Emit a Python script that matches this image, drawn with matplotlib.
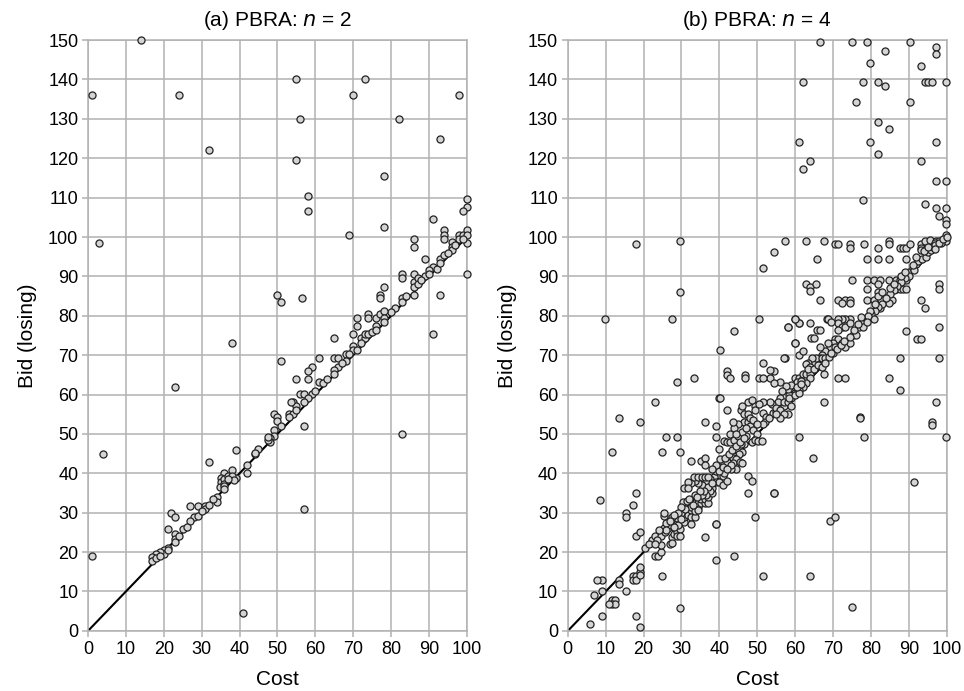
import numpy as np
import matplotlib
matplotlib.use("Agg")
import matplotlib.pyplot as plt

plt.rcParams['font.family'] = ['Liberation Sans', 'DejaVu Sans']

# --- data: (cost, losing bid) ---
# (a) PBRA: n = 2
A_POINTS = [
    (1, 136), (14, 150), (24, 136), (3, 98.5), (4, 45), (1, 19), (23, 62), (32, 122),
    (38, 73), (41, 4.5), (57, 31), (55, 140), (73, 140), (70, 136), (98, 136), (56, 130),
    (82, 130), (55, 119.5), (93, 125), (78, 115.5), (58, 110.5), (58, 106.5), (69, 100.5),
    (78, 102.5), (91, 104.5), (83, 50), (91, 75.3), (93, 85.4), (32, 43), (39, 46),
    (51, 68.4), (50, 85.4), (51, 83.4), (56.5, 84.4),
    (100, 109.6), (100, 107.7), (99, 106.6), (86, 99.6), (86, 97.5), (94, 101.8), (94, 100.5),
    (94, 99.6), (96, 98.8), (96, 97.5), (96, 96.6), (98, 100.5), (98, 99.6), (99, 100.5),
    (100, 101.8), (100, 100.5), (100, 98.6), (100, 90.5), (89, 94.4), (91, 92.5), (90, 91.5),
    (93, 94.4), (94, 95.4), (83, 90.5), (83, 89.5), (86, 90.5), (86, 88.6), (86, 87.3),
    (86, 85.3), (87, 89.5), (78, 87.4), (77, 85.4), (77, 84.4), (83, 84.4), (83, 83.4),
    (92, 92), (89, 90), (87, 88), (84, 85), (93, 93.5), (95, 96), (97, 98), (99, 99.5),
    (88, 89), (90, 90.5), (81, 82), (80, 81),
    (71, 79.4), (71, 77.4), (74, 80.4), (74, 79.4), (76, 79.4), (76, 77.4), (77, 80.4),
    (78, 81.2), (78, 79.4), (78, 78.3), (70, 75.4), (72, 74.3), (73, 74.3), (73, 75.4),
    (74, 75.4), (70, 72.3), (70, 71.3), (71, 71.3), (68, 70.3), (69, 70.3), (68, 68.4),
    (66, 67), (65, 66.2), (65, 69.2), (66, 69.2), (65, 65.3), (65, 74.3), (61, 69.2),
    (61, 63.1), (59, 67), (58, 66), (58, 64), (55, 64), (56, 60.2), (57, 60.2), (59, 60.2),
    (58, 59.1), (57, 58), (54, 58), (55, 57), (53, 55), (54, 55), (53, 54.2), (55, 56.2),
    (49, 55), (50, 54.2), (50, 53.3), (51, 52), (49, 51), (49, 49.4), (48, 49), (48, 48),
    (57, 52), (45, 46.1), (44, 45), (42, 42), (42, 40), (44, 45.1), (47.6, 48.5),
    (47.6, 49.2), (53.5, 58), (62, 63), (63, 64), (60, 61), (67, 68), (72, 73), (75, 76),
    (76, 76.5),
    (38, 40.9), (39, 38.8), (36, 40), (35, 38.7), (35, 37.8), (34.8, 36.6), (35.9, 38.5),
    (35.9, 37.3), (37, 39.4), (37.9, 39.4), (38.5, 38.3), (37, 38.5), (36, 36.8),
    (34, 34.1), (34, 32.8), (31, 31.1), (27, 31.8), (29, 31.8), (31, 31.8), (31, 30.9),
    (28, 29), (27, 27.9), (22, 29.9), (23, 28.9), (21, 25.8), (25, 25.8), (23, 24.6),
    (23, 23.3), (23, 22.5), (21, 21), (20, 20.5), (20, 19.5), (19, 20), (18, 19.5),
    (17, 18.8), (17, 17.8), (18, 18.5), (19, 19), (21, 20.5), (24, 24), (26, 26.5),
    (29, 29.2), (32, 32), (33, 33.5), (30, 30.5), (36, 36),
]

# (b) PBRA: n = 4
B_POINTS = [
    # bids above 100
    (66.7, 149.4), (75.1, 149.4), (79, 149.4), (90.2, 149.4), (97.1, 148.3), (97.1, 146.4),
    (83.8, 147.3), (79.9, 144.3), (93.3, 143.4), (62, 139.3), (77.9, 139.3), (81.8, 139.3),
    (83.8, 138.3), (94.3, 139.3), (95.2, 139.3), (96.1, 139.3), (99.7, 139.3), (76.2, 134.4),
    (90.2, 134.4), (81.8, 129.3), (84.7, 127.3), (60.9, 124.2), (79.9, 124.2), (97.1, 124.2),
    (81.8, 121.2), (62, 117.3), (63.9, 119.3), (93.3, 119.3), (77.9, 109.3), (94.3, 108.3),
    (97.1, 107.3), (97.1, 114.2), (99.7, 114.2), (98, 105.3), (99.7, 107.3), (99.7, 104.3),
    (99.7, 103.4),
    # 60 .. 100
    (18.1, 98.1), (29.6, 99.1), (29.6, 86.1), (9.8, 79.2), (27.6, 79.2), (28.7, 63.1),
    (33.3, 64.1), (40.1, 71.2), (43.9, 76.2), (42, 65.9), (42, 64.9), (42.9, 64.2),
    (46.7, 65), (46.7, 64.2), (50.4, 64.2), (53.5, 64.2), (51.5, 68.1), (54.4, 66),
    (56.1, 63.1), (50.4, 79.2), (51.5, 92.2), (54.4, 96.1), (57.3, 99.1), (57.3, 69.2),
    (58, 77.1), (60, 79.2), (60.9, 78.1), (60, 73.2), (62.8, 99.1), (63.9, 78.1), (63, 88.1),
    (63.9, 87.3), (63.9, 86.2), (65.6, 88.1), (65.9, 94.3), (66.7, 84), (67.5, 99.1),
    (68.4, 79.2), (70.5, 98.3), (71.4, 98.3), (74.4, 98.3), (74.4, 97.2), (78.1, 98.3),
    (79, 94.3), (81.8, 97.2), (81.8, 94.3), (84.7, 99.1), (84.7, 98.3), (84.7, 94.3),
    (87.6, 97.2), (88.5, 97.2), (89.4, 97.2), (90.2, 98.3), (89.3, 94.3), (93.3, 98.3),
    (93.3, 97.2), (94.3, 99.1), (95.5, 99.3), (97.1, 99.1), (98, 99.1), (99.7, 100.5),
    (99.7, 99.1), (98.5, 98.4), (96.8, 98.4), (93.3, 96.6),
    (75.1, 89.2), (79, 89.2), (79, 86.9), (80.8, 89.2), (82.4, 89.2), (84.7, 89.2),
    (86.6, 89.2), (87.6, 89.2), (88.5, 89.2), (89.4, 89.2), (81.8, 88), (81.8, 86.1),
    (86.6, 86.9), (87.6, 86.9), (88.5, 86.9), (89.3, 86.9), (79, 84), (80.8, 84), (82.8, 84),
    (84.7, 84), (85.6, 84), (82.3, 82.1), (84.7, 83.2), (71.4, 84), (73.3, 84), (74.4, 84),
    (74.4, 83.2), (72.3, 83.2), (93.3, 84), (94.3, 82.1), (98, 88.1), (98, 86.9), (98, 77.1),
    (98, 69.2), (97.1, 58), (89.3, 76.2), (92.2, 74.2), (93.3, 74.2), (87.6, 69.2),
    (84.7, 64.2), (87.6, 61.1), (77, 54.2), (67.5, 58), (71.2, 64.2), (73.3, 64.2),
    (90, 91), (91, 92.2), (92, 93.2), (92.5, 94), (93.5, 94.4), (94.5, 95), (95, 96.1),
    (96, 96.6), (96.5, 97.5), (97, 98), (98, 98.5), (99, 99.5), (100, 100), (91.5, 91.5),
    (90, 90), (89, 89.5), (88, 88.5), (87, 87.5), (86, 86.5), (85, 85.5), (84, 84.5),
    (83, 83), (82, 82.2), (81, 81.1), (80, 80.5), (80.7, 79.1), (79.9, 81.1),
    (78.5, 79.2), (79.3, 80), (77.5, 78.1), (76.8, 77.1), (78, 77.1), (79, 78.5),
    (74.5, 79.2), (73.3, 79.2), (72.3, 79.2), (71.4, 79.2), (71.4, 78.1), (72.3, 77.1),
    (73.3, 77.1), (74.4, 78.1), (71.4, 76.3), (70.5, 74.2), (71.4, 74.2), (72.3, 73.2),
    (73.3, 72.2), (74.4, 73.2), (75.2, 75), (76, 75.2), (74.5, 74.5), (70, 73), (69.3, 72.2),
    (70.5, 72.2), (68.7, 73.2), (68, 71), (67, 70), (66, 69), (65, 68), (66.7, 72.2),
    (64.3, 74.3), (65, 74.3), (65.8, 76.3), (66.7, 76.3), (68.7, 79.1), (69.5, 78.5),
    (61, 78.1), (59.9, 79.1), (58.1, 77.1), (59.9, 73.2), (57, 69.2),
    (59.9, 64.2), (61, 64.2), (62, 64.2), (63, 64.2), (62, 65.3), (63, 65.3), (64, 65.3),
    (64, 64.2), (63, 63), (62, 62), (61, 61.2), (60, 60.4), (59, 59.2), (59.9, 62),
    (58.5, 60), (53.3, 66.3), (54.4, 63), (51.5, 64.2), (67.6, 65.3), (66.7, 69.2),
    (65.5, 69.2), (64.5, 69.2), (63.5, 68), (62.8, 67.7), (64, 67), (67, 69.2), (68, 69.2),
    (61, 70), (62, 71),
    (69, 69.5), (70, 70.6), (71, 71.5), (72, 72.5), (73, 73.6), (75.5, 76.5), (76.5, 77.8),
    (77.5, 79.8), (81, 83), (82, 85), (83, 86), (85, 87), (86, 88), (88, 90), (89, 91),
    (91, 93), (92, 95), (94, 96.5), (95, 97.5), (97, 97), (63.5, 66.5), (65, 66.5),
    (66, 67.5), (67, 67), (68, 68), (60.5, 63.2), (61.5, 63.4), (58, 61.5), (59, 62.5),
    (57.5, 62.3), (56.5, 61), (56, 59), (55.5, 58), (57, 57), (54, 57.5), (69.5, 70.5),
    # 0 .. 60
    (22.9, 58), (13.5, 54), (19, 53), (39.8, 59), (40.1, 59.1), (42, 56.1), (36.2, 53),
    (39, 52.1), (39, 49.1), (25.8, 49.1), (28.7, 49.1), (11.7, 45.3), (24.9, 45.3),
    (29.5, 45.3), (39.9, 46.2), (41.2, 48.2), (42.1, 48), (42.9, 49.9), (42.9, 48),
    (45.6, 56), (46.5, 55), (47.5, 55), (46.5, 53), (47.5, 53), (47.5, 58), (49.5, 57),
    (49.5, 56), (51.5, 55.2), (52.4, 54.4), (53.5, 58), (51.5, 58), (54.2, 55.2),
    (54.9, 55.7), (48, 52), (49, 51), (50, 50), (47, 49.5), (48.5, 48), (49.3, 48.5),
    (50.3, 48.3), (51.3, 48.3), (46.5, 47.5), (45.7, 47.5), (45.9, 45.5), (45.3, 45),
    (43.5, 44.5), (55, 56.5), (56, 56), (57, 58.2), (58, 58), (58.5, 59), (59, 57),
    (60, 60), (61, 60.5), (60.5, 62), (61.5, 62.6), (58, 55), (57, 55), (56, 54), (55, 55),
    (52, 53), (53, 54), (51.5, 52.5),
    (44, 48.5), (45, 49.5), (46, 50.5), (47, 51.5), (48, 54), (49, 53.5), (50, 52.5),
    (45, 52.5), (44, 51.5), (43.5, 53), (46, 57), (48.5, 58.5), (50.5, 57.5),
    (32.5, 43.1), (35.2, 43.1), (36.2, 44), (36.2, 42.1), (43.6, 44), (44.5, 43.7),
    (43.6, 42.5), (44.5, 41.2), (43.2, 41), (45.4, 42.8), (46.1, 42.5), (47.6, 39.2),
    (48.6, 38.1), (47.6, 34.9), (54.3, 34.9), (49.4, 29), (39, 27.2), (43.9, 19), (39, 18),
    (51.5, 14), (63.9, 14), (24.8, 14), (29.5, 5.9), (75.1, 6), (19, 1.1), (18.1, 3.9),
    (8.9, 13), (8.9, 10.2), (8.9, 3.9), (8.6, 33.2), (5.9, 1.8), (11.7, 7.9), (12.4, 7.9),
    (11.7, 6.9), (12.4, 6.9), (11, 6.9), (13.5, 13), (13.5, 12), (15.3, 10.2), (7, 9),
    (7.8, 13), (17.2, 14), (17.2, 13), (18.1, 14), (18.1, 13), (19, 15), (19, 16.3),
    (19, 14.2), (17.2, 32), (15.3, 30), (15.3, 29), (18.1, 35), (18.1, 24.1), (19, 25),
    (22.1, 22.7), (22.1, 23.1), (22.9, 24), (22.9, 19), (23.8, 19), (24.7, 20.1),
    (24.7, 21.8), (24.7, 24), (25.3, 26), (25.3, 29.2), (25.3, 30), (25.6, 25), (26.5, 26),
    (26.9, 22), (27.6, 23.9), (27.6, 22.2), (28, 24.5), (28.7, 25), (28.7, 24), (29.5, 25.8),
    (29.5, 24.2), (29.5, 28.2), (28.7, 28.6), (27.6, 27), (26.7, 26.8), (27.6, 29),
    (30.7, 27.6), (30.7, 29), (31.7, 29.5), (32.6, 30.6), (32.6, 28.8), (32.6, 27.2),
    (33.5, 28.9), (30.5, 32.8), (31.5, 33), (32.5, 31.5), (33.5, 30.5), (34.3, 31.5),
    (34.3, 32.5), (35.2, 32.4), (35.2, 33.5), (36.1, 32.4), (36.1, 33.5), (37, 32.4),
    (37, 34), (38, 34.9), (38, 36.3), (37.5, 35.5), (36.5, 34.5), (35.5, 34.5),
    (34.3, 30.6), (33.5, 34.6), (36.1, 23.9), (39, 27.1), (69.3, 28), (70.4, 29),
    (91.3, 37.9), (96.2, 53), (96.2, 52.2), (99.7, 49.1), (77, 54), (60.9, 49.1),
    (78.3, 49.1), (64.7, 44), (54.4, 35), (30, 30), (31, 31), (29, 27), (28, 26.5),
    (38.5, 39), (39.2, 39.5), (40.1, 39.5), (40.9, 39.3), (41.3, 40), (40.1, 41.7),
    (40.1, 43.7), (38.7, 39), (37.5, 38.5), (36.5, 38), (35.5, 37), (34.5, 37.5),
    (33.5, 38), (32.6, 37.5), (31.6, 37.8), (30.6, 36.4), (31.6, 36.4), (33.3, 39),
    (34.3, 39), (35.3, 39), (36.1, 39), (37, 39), (39, 37.8), (40, 37.8), (41, 37),
    (42, 38), (42.1, 43), (43, 42), (41.5, 44), (42.5, 45), (43.3, 46), (44.5, 47),
    (45.4, 48), (46.4, 49), (44.5, 50), (20.5, 21), (21.5, 22), (23.5, 23), (26, 27.5),
    (37, 36.5), (38, 37.5), (39, 40.5), (40, 40.5), (41, 41.5), (42, 41), (39, 42),
    (38, 41), (36, 35.5), (35, 35.5), (34, 34), (33, 32), (32, 33.5), (30, 31.5),
    (29, 30), (28, 29.5), (27, 28), (26, 25.5), (24, 25.5), (23, 22), (30, 28.5),
]

PANELS = [("(a) PBRA: $\\it{n}$ = 2", A_POINTS), ("(b) PBRA: $\\it{n}$ = 4", B_POINTS)]
GRID_COLOR = "#b2b2b2"

fig = plt.figure(figsize=(9.64, 6.91), dpi=100)
lefts = [0.0913, 0.589]

for i, (title, pts) in enumerate(PANELS):
    ax = fig.add_axes([lefts[i], 0.087, 0.393, 0.855])
    pts = np.array(pts)
    ax.plot([0, 100], [0, 100], color="black", lw=1.5, zorder=2)
    ax.scatter(pts[:, 0], pts[:, 1], s=26, facecolor="#d4d4d4", edgecolor="#222222",
               linewidth=0.9, zorder=3, clip_on=False)
    ax.set_xlim(0, 100)
    ax.set_ylim(0, 150)
    ax.set_xticks(range(0, 101, 10))
    ax.set_yticks(range(0, 151, 10))
    ax.grid(True, color=GRID_COLOR, lw=1.1)
    ax.set_axisbelow(True)
    for s in ax.spines.values():
        s.set_color(GRID_COLOR)
        s.set_linewidth(1.1)
    ax.tick_params(colors=GRID_COLOR, labelcolor="black", labelsize=13, length=4, width=1.1, pad=3)
    ax.set_xlabel("Cost", fontsize=15, labelpad=9)
    ax.set_ylabel("Bid (losing)", fontsize=15, labelpad=8)
    ax.set_title(title, fontsize=15, pad=10)

fig.savefig("out.png", dpi=100)
